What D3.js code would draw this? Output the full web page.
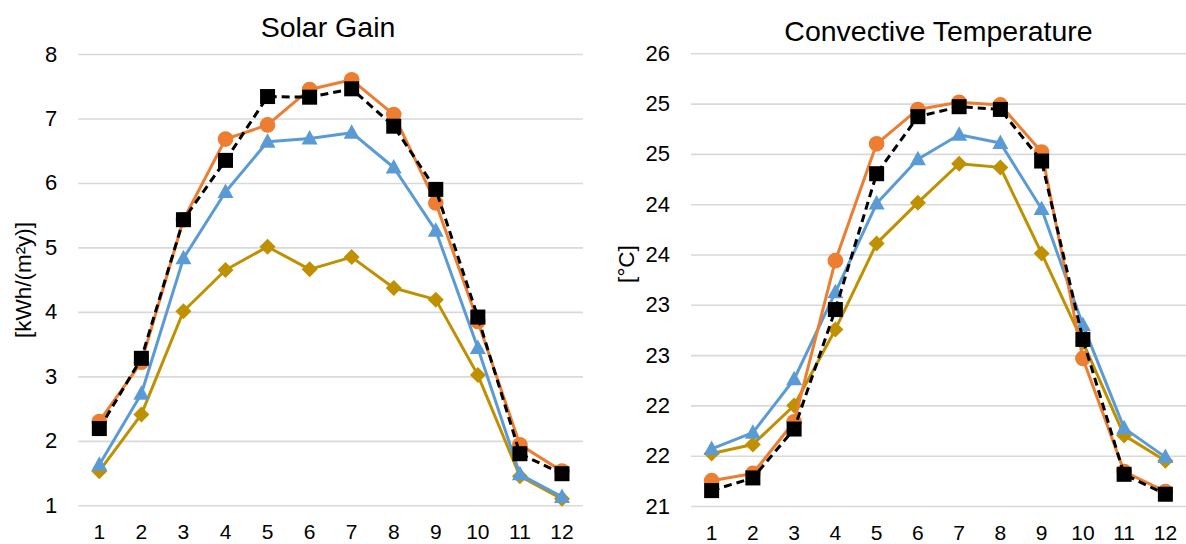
<!DOCTYPE html>
<html>
<head>
<meta charset="utf-8">
<script src="https://cdn.jsdelivr.net/npm/d3@7"></script>
<style>
  html, body { margin: 0; padding: 0; background: #fff; }
  svg { display: block; font-family: "Liberation Sans", Arial, sans-serif; }
</style>
</head>
<body>
<svg id="chart" width="1186" height="544"></svg>
<script>
// Months on the x axis
const months = [1, 2, 3, 4, 5, 6, 7, 8, 9, 10, 11, 12];

// Solar gain [kWh/(m²y)] per month
const solarOrange = [2.30, 3.22, 5.43, 6.68, 6.90, 7.45, 7.60, 7.06, 5.69, 3.85, 1.94, 1.53];
const solarBlue   = [1.63, 2.73, 4.83, 5.86, 6.64, 6.69, 6.78, 6.24, 5.26, 3.44, 1.48, 1.13];
const solarGold   = [1.53, 2.41, 4.01, 4.65, 5.01, 4.66, 4.85, 4.37, 4.19, 3.02, 1.45, 1.10];
const solarBlack  = [2.19, 3.28, 5.43, 6.35, 7.34, 7.33, 7.46, 6.88, 5.90, 3.92, 1.80, 1.49];

// Convective temperature [°C] per month
const tempOrange = [21.28, 21.36, 21.93, 23.71, 25.00, 25.38, 25.46, 25.43, 24.91, 22.63, 21.38, 21.16];
const tempBlue   = [21.63, 21.81, 22.40, 23.36, 24.34, 24.83, 25.10, 25.01, 24.28, 23.00, 21.86, 21.54];
const tempGold   = [21.58, 21.68, 22.11, 22.95, 23.90, 24.35, 24.78, 24.74, 23.79, 22.81, 21.78, 21.50];
const tempBlack  = [21.17, 21.31, 21.85, 23.17, 24.67, 25.30, 25.41, 25.38, 24.81, 22.84, 21.35, 21.13];

// Axis tick labels
const solarTickLabels = ["1", "2", "3", "4", "5", "6", "7", "8"];
const tempTickLabels  = ["21", "22", "22", "23", "23", "24", "24", "25", "25", "26"];

const svg = d3.select("#chart");

const COLORS = { orange: "#ED7D31", blue: "#5B9BD5", gold: "#BF9000", black: "#000000" };

function drawMarker(g, shape, x, y, color) {
  if (shape === "circle") {
    g.append("circle").attr("cx", x).attr("cy", y).attr("r", 7.8).attr("fill", color);
  } else if (shape === "square") {
    g.append("rect").attr("x", x - 7.5).attr("y", y - 7.5).attr("width", 15).attr("height", 15).attr("fill", color);
  } else if (shape === "triangle") {
    g.append("path").attr("d", `M${x},${y - 8.5}L${x + 8},${y + 6}L${x - 8},${y + 6}Z`).attr("fill", color);
  } else if (shape === "diamond") {
    g.append("path").attr("d", `M${x},${y - 8}L${x + 8},${y}L${x},${y + 8}L${x - 8},${y}Z`).attr("fill", color);
  }
}

function panel(opts) {
  const g = svg.append("g");
  const x = d3.scaleBand().domain(months).range([opts.left, opts.right]);
  const y = d3.scaleLinear().domain(opts.domain).range([opts.bottom, opts.top]);

  // gridlines + tick labels
  const tickVals = d3.range(opts.tickLabels.length).map(i =>
    opts.domain[0] + i * (opts.domain[1] - opts.domain[0]) / (opts.tickLabels.length - 1));
  const yAxis = d3.axisLeft(y)
    .tickValues(tickVals)
    .tickSize(-(opts.right - opts.left))
    .tickPadding(21)
    .tickFormat((d, i) => opts.tickLabels[i]);
  const ya = g.append("g").attr("transform", `translate(${opts.left},0)`).call(yAxis);
  ya.select(".domain").remove();
  ya.selectAll(".tick line").attr("stroke", "#D9D9D9").attr("stroke-width", 1.6);
  ya.selectAll(".tick text").attr("fill", "#000").attr("font-size", 22)
    .attr("font-family", "Liberation Sans, Arial, sans-serif");

  // month labels
  const xAxis = d3.axisBottom(x).tickSize(0).tickPadding(0);
  const xa = g.append("g").attr("transform", `translate(0,${opts.bottom})`).call(xAxis);
  xa.select(".domain").remove();
  xa.selectAll(".tick text").attr("fill", "#000").attr("font-size", 21)
    .attr("dy", null).attr("y", 33.5)
    .attr("font-family", "Liberation Sans, Arial, sans-serif");

  // title
  g.append("text").attr("x", opts.titleX).attr("y", opts.titleY)
    .attr("text-anchor", "middle").attr("font-size", 28.5).attr("fill", "#000")
    .text(opts.title);

  // y-axis title
  g.append("text")
    .attr("transform", `translate(${opts.yTitleX},${opts.yTitleY}) rotate(-90)`)
    .attr("text-anchor", "middle").attr("dominant-baseline", "central")
    .attr("font-size", 22.5).attr("fill", "#000")
    .text(opts.yTitle);

  const cx = d => x(d) + x.bandwidth() / 2;
  const line = d3.line().x((d, i) => cx(months[i])).y(d => y(d));

  opts.series.forEach(s => {
    g.append("path").datum(s.values).attr("d", line)
      .attr("fill", "none").attr("stroke", s.color).attr("stroke-width", 3)
      .attr("stroke-linejoin", "round")
      .attr("stroke-dasharray", s.dashed ? "8,5" : null);
    const mg = g.append("g");
    s.values.forEach((v, i) => drawMarker(mg, s.shape, cx(months[i]), y(v), s.color));
  });
}

panel({
  left: 78.3, right: 583, top: 54, bottom: 505.3, domain: [1, 8],
  tickLabels: solarTickLabels,
  title: "Solar Gain", titleX: 328, titleY: 36.5,
  yTitle: "[kWh/(m²y)]", yTitleX: 23, yTitleY: 280,
  series: [
    { values: solarGold, color: COLORS.gold, shape: "diamond" },
    { values: solarBlue, color: COLORS.blue, shape: "triangle" },
    { values: solarOrange, color: COLORS.orange, shape: "circle" },
    { values: solarBlack, color: COLORS.black, shape: "square", dashed: true }
  ]
});

panel({
  left: 691, right: 1186, top: 53.3, bottom: 506, domain: [21, 26],
  tickLabels: tempTickLabels,
  title: "Convective Temperature", titleX: 938.5, titleY: 41,
  yTitle: "[°C]", yTitleX: 626, yTitleY: 264,
  series: [
    { values: tempGold, color: COLORS.gold, shape: "diamond" },
    { values: tempBlue, color: COLORS.blue, shape: "triangle" },
    { values: tempOrange, color: COLORS.orange, shape: "circle" },
    { values: tempBlack, color: COLORS.black, shape: "square", dashed: true }
  ]
});
</script>
</body>
</html>
